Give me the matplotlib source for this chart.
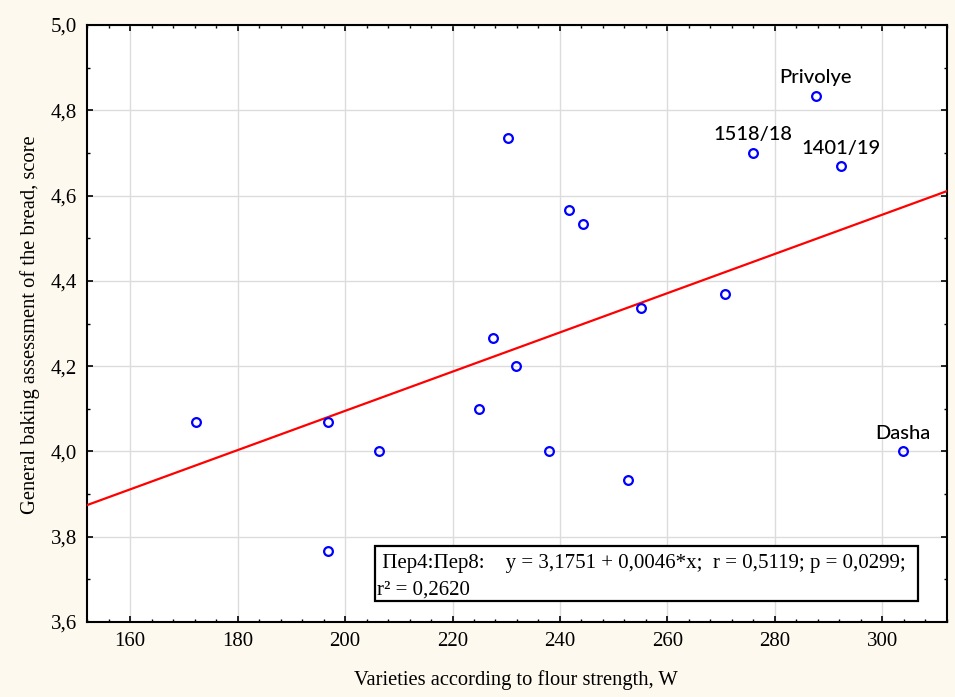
import matplotlib
matplotlib.use("Agg")
import matplotlib.pyplot as plt
import numpy as np
from matplotlib.ticker import MultipleLocator, FixedLocator
from matplotlib.patches import Rectangle

# ---- data ----
flour_strength = [172.3, 196.8, 196.8, 206.3, 224.9, 227.6, 230.3, 231.8, 237.9,
                  241.6, 244.3, 252.7, 255.0, 270.7, 275.9, 287.6, 292.3, 303.8]
baking_score = [4.07, 4.07, 3.766, 4.00, 4.10, 4.267, 4.734, 4.20, 4.00,
                4.566, 4.534, 3.934, 4.337, 4.37, 4.70, 4.834, 4.669, 4.00]
point_labels = {"Privolye": (287.6, 4.834), "1518/18": (275.9, 4.70),
                "1401/19": (292.3, 4.669), "Dasha": (303.8, 4.00)}
intercept = 3.1751
slope = 0.0046
x_ticks = [160, 180, 200, 220, 240, 260, 280, 300]
y_ticks = [3.6, 3.8, 4.0, 4.2, 4.4, 4.6, 4.8, 5.0]
y_ticklabels = ["3,6", "3,8", "4,0", "4,2", "4,4", "4,6", "4,8", "5,0"]
stats_line1 = " \u041f\u0435\u04404:\u041f\u0435\u04408:    y = 3,1751 + 0,0046*x;  r = 0,5119; p = 0,0299;"
stats_line2 = "r\u00b2 = 0,2620"
x_label = "Varieties according to flour strength, W"
y_label = "General baking assessment of the bread, score"

xmin, xmax = 151.9, 312.0
ymin, ymax = 3.6, 5.0

fig = plt.figure(figsize=(9.55, 6.97), dpi=100, facecolor="#FEF9EE")
ax = fig.add_axes([86.7/955, 1-622/697, (946.7-86.7)/955, (622-25)/697])
ax.set_facecolor("white")

serif = "Liberation Serif"

ax.set_xlim(xmin, xmax)
ax.set_ylim(ymin, ymax)
ax.xaxis.set_major_locator(FixedLocator(x_ticks))
ax.xaxis.set_minor_locator(MultipleLocator(4))
ax.yaxis.set_major_locator(FixedLocator(y_ticks))
ax.yaxis.set_minor_locator(MultipleLocator(0.1))
ax.set_yticklabels(y_ticklabels)
ax.set_xticklabels([str(t) for t in x_ticks])

ax.grid(True, which="major", color="#dcdcdc", linewidth=1.0)
ax.set_axisbelow(True)

ax.tick_params(which="both", direction="in", top=True, right=True, color="black")
ax.tick_params(which="major", length=4, width=1.2, pad=7, labelsize=15)
ax.tick_params(which="minor", length=2, width=1.0)
for lab in ax.get_xticklabels() + ax.get_yticklabels():
    lab.set_fontfamily(serif)

for sp in ax.spines.values():
    sp.set_linewidth(1.5)
    sp.set_color("black")

# regression line
xl = np.array([xmin, xmax])
ax.plot(xl, intercept + slope * xl, color="#ff0000", linewidth=1.6, zorder=3)

# points
ax.plot(flour_strength, baking_score, linestyle="none", marker="o", markersize=6.3,
        markerfacecolor="none", markeredgecolor="#0000ff", markeredgewidth=1.6, zorder=4)

for name, (px, py) in point_labels.items():
    ax.annotate(name, (px, py), xytext=(0, 18), textcoords="offset pixels",
                ha="center", va="center", fontsize=14.5, family="Lato",
                fontweight="medium", color="black")

# stats box
ax.add_patch(Rectangle((0.3352, 0.0357), 0.9666-0.3352, 0.1273-0.0357,
                       transform=ax.transAxes, facecolor="white", edgecolor="black",
                       linewidth=1.6, zorder=5))
ax.text(0.3370, 0.0905, stats_line1, transform=ax.transAxes, ha="left", va="baseline",
        fontsize=15, family=serif, zorder=6)
ax.text(0.3370, 0.0452, stats_line2, transform=ax.transAxes, ha="left", va="baseline",
        fontsize=15, family=serif, zorder=6)

fig.text(516/955, 1-680/697, x_label, ha="center", va="center", fontsize=14.8, family=serif)
fig.text(30/955, 1-325/697, y_label, ha="center", va="center", rotation=90,
         fontsize=14.8, family=serif)

fig.savefig("out.png", dpi=100, facecolor=fig.get_facecolor())
